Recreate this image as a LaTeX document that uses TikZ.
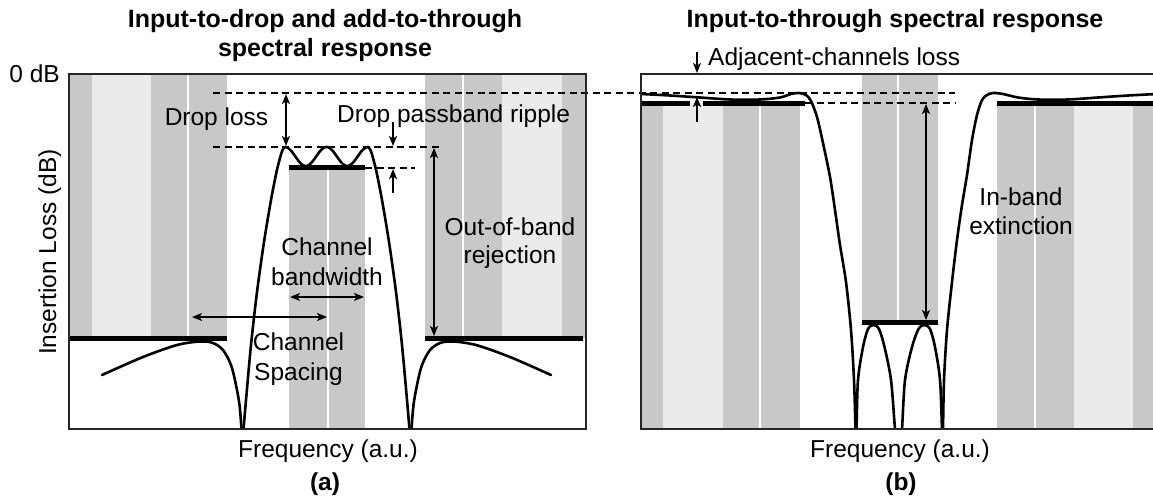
\documentclass[tikz,border=0pt]{standalone}
\usepackage{fontspec}
\setmainfont{Liberation Sans}
\usetikzlibrary{arrows.meta}
\definecolor{banddark}{RGB}{200,200,200}
\definecolor{bandlight}{RGB}{235,235,235}
\begin{document}
\begin{tikzpicture}[x=1pt,y=-1pt,
  lbl/.style={font=\fontsize{24.5}{29}\selectfont, inner sep=0pt},
  ttl/.style={font=\fontsize{25}{30}\selectfont\bfseries, inner sep=0pt},
  axisframe/.style={line width=1.5pt, draw=black!85},
  resp/.style={line width=2.6pt, line join=round, line cap=round},
  levelbar/.style={line width=5.5pt, line cap=butt},
  guide/.style={line width=1.8pt, dash pattern=on 7pt off 4.5pt},
  sep/.style={white, line width=2pt},
  tip/.tip={Stealth[length=10pt,width=8pt,inset=2.5pt]},
  dimboth/.style={line width=1.5pt, tip-tip},
  dimone/.style={line width=1.5pt, -tip},
]
\useasboundingbox (0,0) rectangle (1153,500);

% ---------------- channel bands, panel (a)
\fill[banddark] (69,74) rectangle (227,338);
\fill[bandlight] (92,74) rectangle (151,338);
\draw[sep] (188,74) -- (188,338);
\fill[banddark] (289,168) rectangle (365,429);
\draw[sep] (328,168) -- (328,429);
\fill[banddark] (425,74) rectangle (586,338);
\fill[bandlight] (502,74) rectangle (562,338);
\draw[sep] (463,74) -- (463,338);

% ---------------- channel bands, panel (b)
\fill[banddark] (641,103) rectangle (800,429);
\fill[bandlight] (663,103) rectangle (723,429);
\draw[sep] (760,103) -- (760,429);
\fill[banddark] (862,74) rectangle (938,322);
\draw[sep] (898,74) -- (898,322);
\fill[banddark] (997,103) rectangle (1153,429);
\fill[bandlight] (1074,103) rectangle (1133,429);
\draw[sep] (1035,103) -- (1035,429);

% ---------------- level bars
\draw[levelbar] (68,338.5) -- (227,338.5);
\draw[levelbar] (289,167.5) -- (365,167.5);
\draw[levelbar] (425,338.5) -- (583,338.5);
\draw[levelbar] (641,103.5) -- (690,103.5);
\draw[levelbar] (703,103.5) -- (805,103.5);
\draw[levelbar] (862,322.5) -- (938,322.5);
\draw[levelbar] (997,103.5) -- (1153,103.5);

% ---------------- dashed reference levels
\draw[guide] (213,93) -- (955,93);
\draw[guide] (213,147) -- (440,147);
\draw[guide] (365,168) -- (415,168);
\draw[guide] (805,103) -- (955,103);

% ---------------- drop response
\begin{scope}
\clip (69,74) rectangle (586,429);
\draw[resp] plot[smooth] coordinates {(102,375) (143,357) (177,345) (200,341.5)
  (213,343) (223,350) (231,365) (236,385) (239.5,405) (241.5,429) (242,440)};
\draw[resp] plot[smooth] coordinates {(242,440) (243.5,429) (246,400) (251,345)
  (257,292) (264,242) (271,200) (276.5,172) (280,158) (282.5,150) (285,147)}
  -- plot[domain=285:368, samples=90] (\x,{156.5-9.5*cos((\x-285)*8.6747)})
  -- plot[smooth] coordinates {(368,147) (370.5,150) (373,158) (376.5,172)
  (382,200) (389,242) (396,292) (402,345) (407,400) (409.5,429) (411,440)};
\draw[resp] plot[smooth] coordinates {(411,440) (411.5,429) (413.5,405) (417,385)
  (422,365) (430,350) (440,343) (453,341.5) (476,345) (510,357) (551,375)};
\end{scope}

% ---------------- through response
\begin{scope}
\clip (641,74) rectangle (1153,429);
\draw[resp] plot[smooth] coordinates {(641,94) (670,95.5) (700,97.5) (730,99.5)
  (760,99.5) (780,97.5) (791,94) (799,93) (806,95) (811,101) (817,117) (823,143)
  (830,177) (835,210) (840,245) (846,282) (851,330) (854,380) (855.5,429) (856,440)};
\draw[resp] plot[smooth] coordinates {(856,440) (856.5,429) (858,380) (863,347)
  (868,329) (873.5,325) (879,329) (884.5,347) (891,380) (895,429) (897,445)};
\draw[resp] plot[smooth] coordinates {(900,445) (902,429) (905,380) (912,347)
  (918.5,329) (924.5,325) (930,329) (935,347) (940,380) (942,429) (942.5,440)};
\draw[resp] plot[smooth] coordinates {(942.5,440) (943,429) (944,380) (947,330)
  (952,282) (957,240) (962,205) (967,175) (972,140) (977,115) (982,100) (987,95)
  (993,93) (1003,94) (1018,97.5) (1038,99.5) (1068,99.5) (1098,97.5) (1128,95.5)
  (1157,94)};
\end{scope}

% ---------------- axes frames
\draw[axisframe] (69,74) rectangle (586,429);
\draw[axisframe] (1156,74) -- (641,74) -- (641,429) -- (1156,429);

% ---------------- dimension markers
\coordinate (dlTop) at (286,94);
\coordinate (dlBot) at (286,146);
\draw[dimboth, line width=1.8pt] (dlTop) -- (dlBot);
\coordinate (rpA) at (393,122);
\coordinate (rpB) at (393,146);
\draw[dimone] (rpA) -- (rpB);
\coordinate (rpC) at (393,193);
\coordinate (rpD) at (393,169);
\draw[dimone] (rpC) -- (rpD);
\coordinate (obTop) at (434,148);
\coordinate (obBot) at (434,336);
\draw[dimboth] (obTop) -- (obBot);
\coordinate (bwL) at (290,297);
\coordinate (bwR) at (364,297);
\draw[dimboth] (bwL) -- (bwR);
\coordinate (csL) at (192,317);
\coordinate (csR) at (327,317);
\draw[dimboth] (csL) -- (csR);
\coordinate (acA) at (697,52);
\coordinate (acB) at (697,73);
\draw[dimone] (acA) -- (acB);
\coordinate (acC) at (697,122);
\coordinate (acD) at (697,97);
\draw[dimone] (acC) -- (acD);
\coordinate (ibTop) at (926,104);
\coordinate (ibBot) at (926,320);
\draw[dimboth] (ibTop) -- (ibBot);

% ---------------- titles
\node[ttl, anchor=base] (ta1) at (325,28) {Input-to-drop and add-to-through};
\node[ttl, anchor=base] (ta2) at (325,57) {spectral response};
\node[ttl, anchor=base] (tb) at (895,28) {Input-to-through spectral response};

% ---------------- axis labels
\node[lbl, anchor=base east] (zero) at (60,83) {0 dB};
\node[lbl, rotate=90, anchor=base] (ylab) at (56,252) {Insertion Loss (dB)};
\node[lbl, anchor=base] (xa) at (328,457) {Frequency (a.u.)};
\node[lbl, anchor=base] (xb) at (900,457) {Frequency (a.u.)};
\node[ttl, font=\fontsize{24.5}{29}\selectfont\bfseries, anchor=base] (pa) at (325,490) {(a)};
\node[ttl, font=\fontsize{24.5}{29}\selectfont\bfseries, anchor=base] (pb) at (901,490) {(b)};

% ---------------- annotations
\node[lbl, anchor=base] (droploss) at (216.5,125) {Drop loss};
\node[lbl, anchor=base west] (ripple) at (337,122) {Drop passband ripple};
\node[lbl, anchor=base] (oob1) at (510,235) {Out-of-band};
\node[lbl, anchor=base] (oob2) at (510,263) {rejection};
\node[lbl, anchor=base] (bw1) at (327,255) {Channel};
\node[lbl, anchor=base] (bw2) at (327,285) {bandwidth};
\node[lbl, anchor=base] (cs1) at (298.5,350) {Channel};
\node[lbl, anchor=base] (cs2) at (298.5,380) {Spacing};
\node[lbl, anchor=base west] (adj) at (708,66) {Adjacent-channels loss};
\node[lbl, anchor=base] (ib1) at (1021,205) {In-band};
\node[lbl, anchor=base] (ib2) at (1021,234) {extinction};
\end{tikzpicture}
\end{document}
